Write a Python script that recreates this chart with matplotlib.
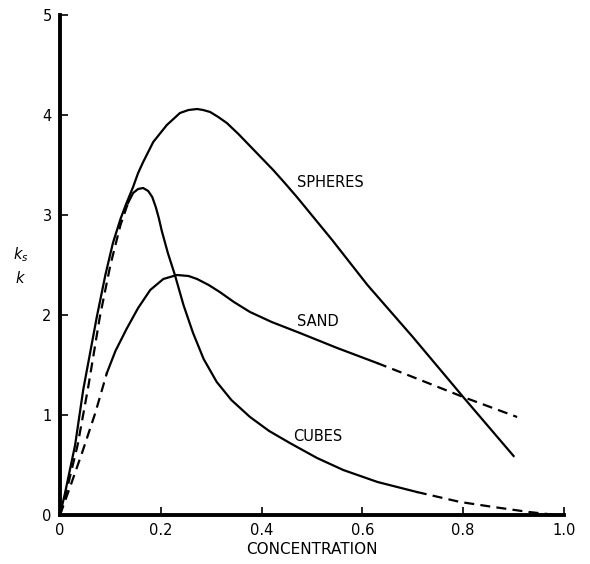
import matplotlib
matplotlib.use("Agg")
import matplotlib.pyplot as plt

# values (concentration, ks/k)
spheres_x = [0, 0.01, 0.03, 0.046, 0.073, 0.09, 0.105, 0.12, 0.132, 0.145, 0.155,
             0.165, 0.175, 0.185, 0.212, 0.225, 0.238, 0.255, 0.272, 0.284, 0.298,
             0.314, 0.331, 0.354, 0.377, 0.40, 0.423, 0.446, 0.47, 0.54, 0.61,
             0.7, 0.8, 0.9]
spheres_y = [0, 0.22, 0.7, 1.25, 1.98, 2.4, 2.72, 2.96, 3.12, 3.28, 3.42,
             3.53, 3.63, 3.73, 3.90, 3.96, 4.02, 4.05, 4.06, 4.05, 4.03,
             3.98, 3.92, 3.81, 3.69, 3.57, 3.45, 3.32, 3.18, 2.75, 2.3,
             1.78, 1.18, 0.59]

cubes_dash1_x = [0, 0.012, 0.035, 0.056, 0.079, 0.1, 0.12, 0.135]
cubes_dash1_y = [0, 0.22, 0.7, 1.28, 1.98, 2.5, 2.9, 3.12]
cubes_x = [0.135, 0.145, 0.155, 0.165, 0.175, 0.183, 0.19, 0.196, 0.202, 0.214,
           0.228, 0.245, 0.264, 0.285, 0.311, 0.34, 0.377, 0.415, 0.456, 0.51,
           0.562, 0.63, 0.708]
cubes_y = [3.12, 3.22, 3.26, 3.27, 3.24, 3.18, 3.08, 2.97, 2.84, 2.62,
           2.40, 2.1, 1.82, 1.56, 1.33, 1.15, 0.98, 0.84, 0.72, 0.57,
           0.45, 0.33, 0.23]
cubes_dash2_x = [0.708, 0.794, 0.86, 0.93, 0.985]
cubes_dash2_y = [0.23, 0.13, 0.08, 0.03, 0.0]

sand_dash1_x = [0, 0.02, 0.045, 0.07, 0.093]
sand_dash1_y = [0, 0.28, 0.64, 1.02, 1.42]
sand_x = [0.093, 0.11, 0.132, 0.155, 0.179, 0.205, 0.232, 0.255, 0.272, 0.295,
          0.317, 0.345, 0.377, 0.42, 0.476, 0.55, 0.629]
sand_y = [1.42, 1.64, 1.86, 2.07, 2.25, 2.36, 2.40, 2.39, 2.36, 2.30,
          2.23, 2.13, 2.03, 1.93, 1.82, 1.67, 1.52]
sand_dash2_x = [0.629, 0.7, 0.8, 0.907]
sand_dash2_y = [1.52, 1.38, 1.18, 0.98]

x_ticks = [0, 0.2, 0.4, 0.6, 0.8, 1.0]
x_ticklabels = ["0", "0.2", "0.4", "0.6", "0.8", "1.0"]
y_ticks = [0, 1, 2, 3, 4, 5]

fig = plt.figure(figsize=(5.9, 5.64), dpi=100)
ax = fig.add_axes([0.1017, 0.0869, 0.8542, 0.8865])

lw = 1.6
dash = (4.5, 2.8)
style = dict(color="black", lw=lw, clip_on=False, solid_joinstyle="round",
             dash_joinstyle="round")
ax.plot(spheres_x, spheres_y, **style)
ax.plot(cubes_dash1_x, cubes_dash1_y, dashes=dash, **style)
ax.plot(cubes_x, cubes_y, **style)
ax.plot(cubes_dash2_x, cubes_dash2_y, dashes=dash, **style)
ax.plot(sand_dash1_x, sand_dash1_y, dashes=dash, **style)
ax.plot(sand_x, sand_y, **style)
ax.plot(sand_dash2_x, sand_dash2_y, dashes=dash, **style)

ax.text(0.47, 3.32, "SPHERES", fontsize=10.5, va="center", ha="left")
ax.text(0.47, 1.93, "SAND", fontsize=10.5, va="center", ha="left")
ax.text(0.462, 0.78, "CUBES", fontsize=10.5, va="center", ha="left")

ax.set_xlim(0, 1.0)
ax.set_ylim(0, 5)
ax.set_xticks(x_ticks)
ax.set_xticklabels(x_ticklabels)
ax.set_yticks(y_ticks)
ax.tick_params(direction="in", length=6, width=1.2, labelsize=10.5, pad=6)
for side in ["top", "right"]:
    ax.spines[side].set_visible(False)
ax.spines["left"].set_linewidth(2.8)
ax.spines["bottom"].set_linewidth(2.8)

ax.set_xlabel("CONCENTRATION", fontsize=11, labelpad=3)
fig.text(0.035, 0.548, "$k_s$", fontsize=10.5, ha="center", va="center")
fig.text(0.035, 0.507, "$k$", fontsize=10.5, ha="center", va="center")

fig.savefig("out.png", dpi=100)
